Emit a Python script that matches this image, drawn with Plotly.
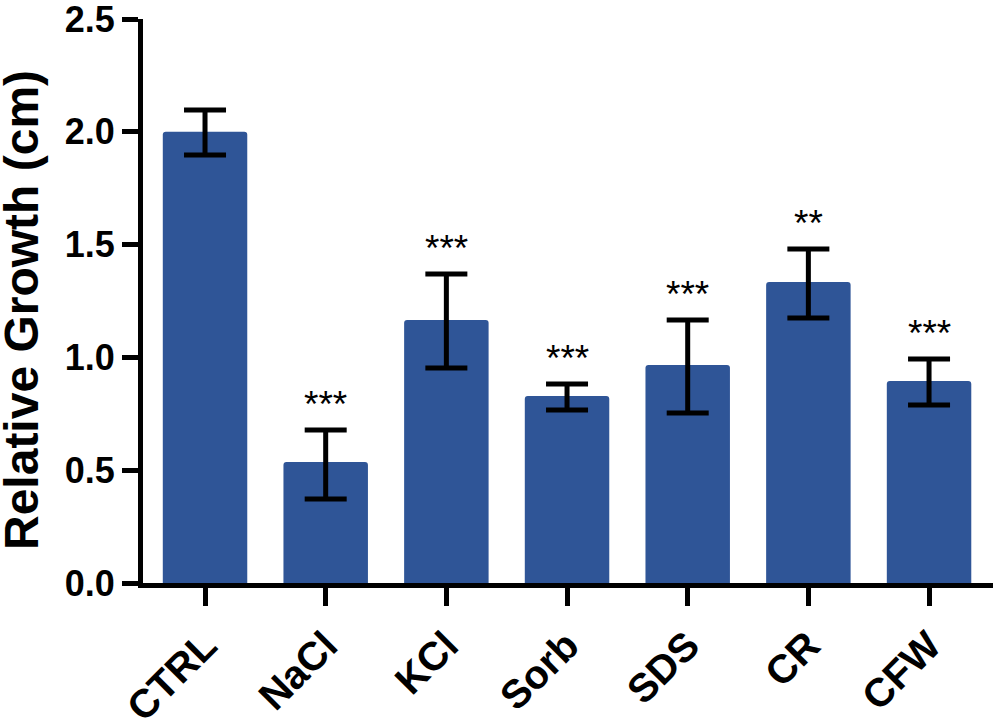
import plotly.graph_objects as go

# data
groups = ["CTRL", "NaCl", "KCl", "Sorb", "SDS", "CR", "CFW"]
growth = [2.00, 0.536, 1.166, 0.829, 0.966, 1.334, 0.895]
err_up = [0.097, 0.142, 0.204, 0.053, 0.200, 0.146, 0.098]
err_down = [0.103, 0.164, 0.213, 0.062, 0.212, 0.159, 0.106]
stars = ["", "***", "***", "***", "***", "**", "***"]

bar_color = "#2F5597"
font_family = "Liberation Sans, Arial, sans-serif"

# layout in pixels
W, H = 999, 723
ml, mr, mt, mb = 143, 6, 19, 140
plot_w = W - ml - mr
plot_h = H - mt - mb

fig = go.Figure()

fig.add_trace(
    go.Bar(
        x=groups,
        y=growth,
        width=0.70,
        marker=dict(color=bar_color, line=dict(width=0), cornerradius=3),
        error_y=dict(
            type="data",
            symmetric=False,
            array=err_up,
            arrayminus=err_down,
            color="black",
            thickness=5,
            width=21,
        ),
    )
)

# significance marks above the error bars
for g, v, e, s in zip(groups, growth, err_up, stars):
    if not s:
        continue
    fig.add_annotation(
        x=g,
        y=v + e,
        text=s,
        showarrow=False,
        yanchor="bottom",
        yshift=3,
        font=dict(family=font_family, size=37, color="black"),
    )

# y axis title placed by hand (it sits a bit off the axis centre)
fig.add_annotation(
    x=(21 - ml) / plot_w,
    y=(H - mb - 310) / plot_h,
    xref="x domain",
    yref="y domain",
    xanchor="center",
    yanchor="middle",
    text="<b>Relative Growth (cm)</b>",
    textangle=-90,
    showarrow=False,
    font=dict(family=font_family, size=48, color="black"),
)

fig.update_xaxes(
    range=[-0.514, 6.53],
    automargin=False,
    showline=True,
    linecolor="black",
    linewidth=5,
    ticks="outside",
    ticklen=18,
    tickwidth=5,
    tickcolor="black",
    tickangle=-45,
    tickfont=dict(family=font_family, size=40, color="black", weight="bold"),
    showgrid=False,
    zeroline=False,
)

fig.update_yaxes(
    range=[0, 2.5],
    automargin=False,
    tickvals=[0, 0.5, 1.0, 1.5, 2.0, 2.5],
    ticktext=["0.0", "0.5", "1.0", "1.5", "2.0", "2.5"],
    ticklabeloverflow="allow",
    showline=True,
    linecolor="black",
    linewidth=5,
    ticks="outside",
    ticklen=16,
    tickwidth=5,
    tickcolor="black",
    tickfont=dict(family=font_family, size=36, color="black", weight="bold"),
    showgrid=False,
    zeroline=False,
)

fig.update_layout(
    width=W,
    height=H,
    margin=dict(l=ml, r=mr, t=mt, b=mb),
    plot_bgcolor="white",
    paper_bgcolor="white",
    showlegend=False,
)

# the page body has a default 8px margin, drop it so the figure fills the window
fig.write_html(
    "out.html",
    config={"displayModeBar": False},
    post_script="document.body.style.margin='0';document.body.style.overflow='hidden';",
)
